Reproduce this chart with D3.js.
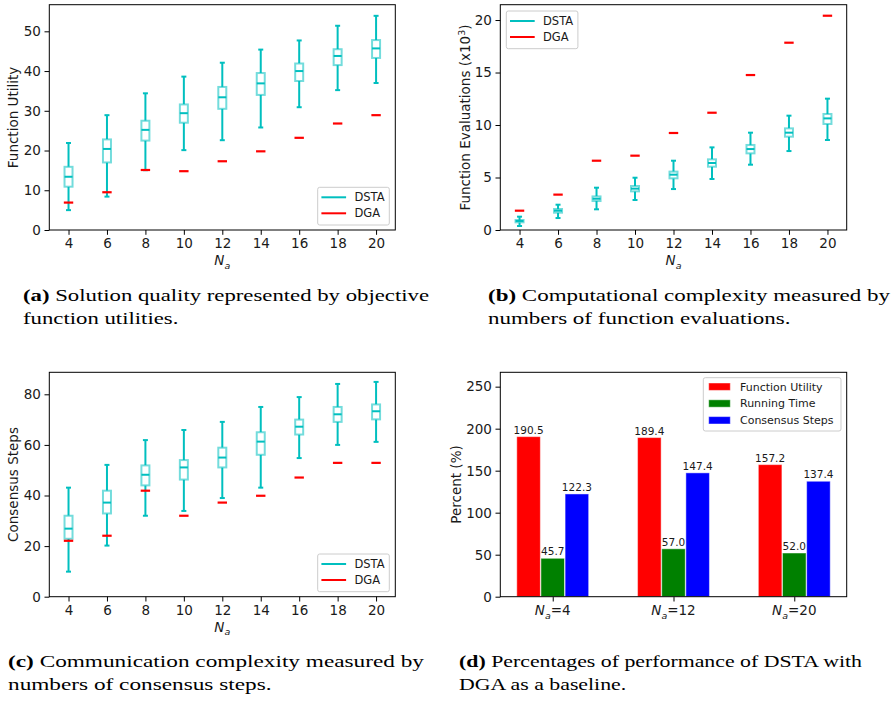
<!DOCTYPE html>
<html>
<head>
<meta charset="utf-8">
<script src="https://d3js.org/d3.v7.min.js"></script>
<style>
  body { margin: 0; background: #fff; }
  svg text { font-family: "DejaVu Sans", sans-serif; fill: #1a1a1a; }
  svg .cap { font-family: "Liberation Serif", serif; fill: #000; }
</style>
</head>
<body>
<svg id="fig" width="894" height="701"></svg>
<script>
const agents = [4, 6, 8, 10, 12, 14, 16, 18, 20];

// (a) function utility
const utilLow  = [5.0, 8.4, 15.05, 20.1, 22.6, 25.8, 30.9, 35.2, 37.0];
const utilQ1   = [10.9, 17.0, 22.5, 27.0, 30.5, 34.0, 37.5, 41.5, 43.3];
const utilMed  = [13.4, 20.4, 25.2, 29.4, 33.4, 36.9, 40.0, 43.8, 45.7];
const utilQ3   = [15.9, 22.8, 27.5, 31.6, 36.0, 39.5, 41.9, 45.5, 47.8];
const utilHigh = [21.9, 28.9, 34.4, 38.6, 42.1, 45.4, 47.7, 51.4, 53.9];
const utilDga  = [6.9, 9.5, 15.1, 14.8, 17.3, 19.8, 23.2, 26.8, 28.9];

// (b) function evaluations (x10^3)
const evalLow  = [0.38, 1.14, 1.97, 2.86, 3.9, 4.86, 6.22, 7.52, 8.57];
const evalQ1   = [0.73, 1.65, 2.76, 3.68, 4.92, 6.03, 7.3, 8.89, 10.1];
const evalMed  = [0.86, 1.84, 2.98, 3.94, 5.27, 6.38, 7.71, 9.27, 10.63];
const evalQ3   = [0.95, 2.0, 3.2, 4.19, 5.56, 6.73, 8.1, 9.68, 11.05];
const evalHigh = [1.27, 2.41, 4.03, 4.98, 6.6, 7.87, 9.27, 10.89, 12.51];
const evalDga  = [1.84, 3.37, 6.6, 7.08, 9.24, 11.17, 14.76, 17.84, 20.41];

// (c) consensus steps
const stepLow  = [9.9, 20.2, 32.0, 33.9, 39.0, 43.1, 54.8, 60.0, 61.2];
const stepQ1   = [22.9, 32.9, 44.0, 46.3, 51.1, 56.1, 64.1, 69.1, 70.1];
const stepMed  = [26.9, 37.2, 48.2, 51.1, 55.0, 61.3, 67.2, 72.1, 73.3];
const stepQ3   = [32.0, 41.9, 51.9, 54.0, 58.9, 65.0, 70.0, 75.0, 76.0];
const stepHigh = [43.1, 52.1, 61.9, 65.9, 69.1, 75.0, 78.9, 84.1, 84.9];
const stepDga  = [22.1, 24.1, 41.9, 32.0, 37.2, 39.9, 47.1, 52.9, 52.9];

// (d) percentages vs DGA
const groups = ["4", "12", "20"];
const metricNames = ["Function Utility", "Running Time", "Consensus Steps"];
const metricColors = ["#ff0000", "#008000", "#0000ff"];
const pctUtility = [190.5, 189.4, 157.2];
const pctRunTime = [45.7, 57.0, 52.0];
const pctSteps   = [122.3, 147.4, 137.4];

const xTicks = [4, 6, 8, 10, 12, 14, 16, 18, 20];
const utilTicks = [0, 10, 20, 30, 40, 50];
const evalTicks = [0, 5, 10, 15, 20];
const stepTicks = [0, 20, 40, 60, 80];
const pctTicks = [0, 50, 100, 150, 200, 250];

const cyan = "#00bfbf";
const fs = "13.5px";
const svg = d3.select("#fig");

function frameAxes(box, x, y, yTicks) {
    const g = svg.append("g");
    g.append("g")
        .attr("transform", "translate(0," + box.bottom + ")")
        .call(d3.axisBottom(x).tickValues(box.xTicks).tickSize(4.8).tickPadding(3.6).tickFormat(box.xFormat || d3.format("d")))
        .call(a => a.select(".domain").remove());
    g.append("g")
        .attr("transform", "translate(" + box.left + ",0)")
        .call(d3.axisLeft(y).tickValues(yTicks).tickSize(4.8).tickPadding(3.6).tickFormat(d3.format("d")))
        .call(a => a.select(".domain").remove());
    g.selectAll(".tick line").attr("stroke", "#000").attr("stroke-width", 1);
    g.selectAll(".tick text").attr("fill", "#1a1a1a")
        .style("font-family", "DejaVu Sans").style("font-size", fs);
    return g;
}

function drawFrame(box) {
    svg.append("rect")
        .attr("x", box.left).attr("y", box.top)
        .attr("width", box.right - box.left).attr("height", box.bottom - box.top)
        .attr("fill", "none").attr("stroke", "#000").attr("stroke-width", 1);
}

function naLabel(sel, extra) {
    sel.append("tspan").style("font-style", "italic").text("N");
    sel.append("tspan").style("font-style", "italic").style("font-size", "9.5px")
        .attr("dy", 3.5).text("a");
    if (extra) sel.append("tspan").attr("dy", -3.5).text(extra);
}

function yLabel(x, cy, text) {
    return svg.append("text")
        .attr("transform", "translate(" + x + "," + cy + ") rotate(-90)")
        .attr("text-anchor", "middle").attr("dy", "0.35em")
        .style("font-size", fs)
        .text(text);
}

function boxLegend(lx, ly) {
    const lg = svg.append("g").attr("transform", "translate(" + lx + "," + ly + ")");
    lg.append("rect").attr("width", 71.6).attr("height", 37.7).attr("rx", 2)
        .attr("fill", "#fff").attr("fill-opacity", 0.8).attr("stroke", "#cccccc");
    [["DSTA", cyan], ["DGA", "#ff0000"]].forEach((d, i) => {
        const yy = 10 + i * 16;
        lg.append("line").attr("x1", 3.7).attr("x2", 28.4).attr("y1", yy).attr("y2", yy)
            .attr("stroke", d[1]).attr("stroke-width", 2);
        lg.append("text").attr("x", 36.7).attr("y", yy).attr("dy", "0.35em")
            .style("font-size", "11.5px").text(d[0]);
    });
}

function boxPanel(box, ymax, yTicks, low, q1, med, q3, high, dga, legendPos) {
    const x = d3.scaleLinear().domain([3, 21]).range([box.left, box.right]);
    const y = d3.scaleLinear().domain([0, ymax]).range([box.bottom, box.top]);
    box.xTicks = xTicks;
    frameAxes(box, x, y, yTicks);

    const g = svg.append("g");
    agents.forEach((n, i) => {
        const cx = x(n);
        g.append("line").attr("x1", cx).attr("x2", cx).attr("y1", y(q3[i])).attr("y2", y(high[i]))
            .attr("stroke", cyan).attr("stroke-width", 2);
        g.append("line").attr("x1", cx).attr("x2", cx).attr("y1", y(q1[i])).attr("y2", y(low[i]))
            .attr("stroke", cyan).attr("stroke-width", 2);
        [low[i], high[i]].forEach(v => {
            g.append("line").attr("x1", cx - 2.5).attr("x2", cx + 2.5).attr("y1", y(v)).attr("y2", y(v))
                .attr("stroke", cyan).attr("stroke-width", 2);
        });
        g.append("rect").attr("x", cx - 4).attr("width", 8)
            .attr("y", y(q3[i])).attr("height", y(q1[i]) - y(q3[i]))
            .attr("fill", "#fff").attr("stroke", cyan).attr("stroke-opacity", 0.55).attr("stroke-width", 2);
        g.append("line").attr("x1", cx - 4).attr("x2", cx + 4).attr("y1", y(med[i])).attr("y2", y(med[i]))
            .attr("stroke", cyan).attr("stroke-width", 2);
        g.append("line").attr("x1", cx - 4.7).attr("x2", cx + 4.7).attr("y1", y(dga[i])).attr("y2", y(dga[i]))
            .attr("stroke", "#ff0000").attr("stroke-width", 2.2);
    });
    drawFrame(box);

    const xl = svg.append("text").attr("x", (box.left + box.right) / 2).attr("y", box.bottom + 35)
        .attr("text-anchor", "middle").style("font-size", fs);
    naLabel(xl);

    if (legendPos === "lr") boxLegend(box.right - 6 - 71.6, box.bottom - 5 - 37.7);
    else boxLegend(box.left + 6, box.top + 6.3);
}

// panel (a)
const boxA = { left: 49.3, right: 395.3, top: 4.7, bottom: 230 };
boxPanel(boxA, 56.7, utilTicks, utilLow, utilQ1, utilMed, utilQ3, utilHigh, utilDga, "lr");
yLabel(13.5, 117.5, "Function Utility");

// panel (b)
const boxB = { left: 500.3, right: 846.7, top: 4.7, bottom: 230 };
boxPanel(boxB, 21.46, evalTicks, evalLow, evalQ1, evalMed, evalQ3, evalHigh, evalDga, "ul");
const ylb = yLabel(465, 117.5, "Function Evaluations (x10");
ylb.append("tspan").attr("dy", -5).style("font-size", "9.5px").text("3");
ylb.append("tspan").attr("dy", 5).text(")");

// panel (c)
const boxC = { left: 49.3, right: 395.3, top: 372.3, bottom: 596.7 };
boxPanel(boxC, 88.7, stepTicks, stepLow, stepQ1, stepMed, stepQ3, stepHigh, stepDga, "lr");
yLabel(13.5, 484.5, "Consensus Steps");

// panel (d)
const boxD = { left: 500.3, right: 846.7, top: 372.3, bottom: 596.7 };
{
    const x = d3.scaleLinear().domain([-0.434, 2.434]).range([boxD.left, boxD.right]);
    const y = d3.scaleLinear().domain([0, 267.1]).range([boxD.bottom, boxD.top]);
    boxD.xTicks = [0, 1, 2];
    boxD.xFormat = () => "";
    frameAxes(boxD, x, y, pctTicks);

    const series = [pctUtility, pctRunTime, pctSteps];
    const barW = 0.195;
    series.forEach((vals, s) => {
        const gs = svg.append("g");
        vals.forEach((v, i) => {
            const xc = i + (s - 1) * 0.2;
            gs.append("rect")
                .attr("x", x(xc - barW / 2)).attr("width", x(barW) - x(0))
                .attr("y", y(v)).attr("height", y(0) - y(v))
                .attr("fill", metricColors[s])
                .attr("stroke", "#fff").attr("stroke-opacity", 0.45).attr("stroke-width", 1);
            gs.append("text").attr("x", x(xc)).attr("y", y(v) - 3)
                .attr("text-anchor", "middle").style("font-size", "10.5px")
                .text(v.toFixed(1));
        });
    });
    drawFrame(boxD);

    groups.forEach((grp, i) => {
        const t = svg.append("text").attr("x", x(i)).attr("y", boxD.bottom + 18.5)
            .attr("text-anchor", "middle").style("font-size", fs);
        naLabel(t, "=" + grp);
    });

    yLabel(456.7, 484.5, "Percent (%)");

    const lg = svg.append("g").attr("transform", "translate(703.3,377.7)");
    lg.append("rect").attr("width", 137.7).attr("height", 53.3).attr("rx", 2)
        .attr("fill", "#fff").attr("fill-opacity", 0.8).attr("stroke", "#cccccc");
    metricNames.forEach((name, i) => {
        const yy = 9 + i * 16.8;
        lg.append("rect").attr("x", 5.4).attr("y", yy - 3.7).attr("width", 21.6).attr("height", 7.4)
            .attr("fill", metricColors[i]).attr("stroke", "#fff").attr("stroke-opacity", 0.45);
        lg.append("text").attr("x", 36.7).attr("y", yy).attr("dy", "0.35em")
            .style("font-size", "11px").text(name);
    });
}

// captions
const captions = [
    { x: 23, y: 301, tag: "(a)", l1: "Solution quality represented by objective", l2: "function utilities.", w: 406 },
    { x: 488, y: 301, tag: "(b)", l1: "Computational complexity measured by", l2: "numbers of function evaluations.", w: 402 },
    { x: 8, y: 667, tag: "(c)", l1: "Communication complexity measured by", l2: "numbers of consensus steps.", w: 416 },
    { x: 459, y: 667, tag: "(d)", l1: "Percentages of performance of DSTA with", l2: "DGA as a baseline.", w: 403 }
];
captions.forEach(c => {
    const t1 = svg.append("text").attr("class", "cap").attr("x", c.x).attr("y", c.y)
        .style("font-size", "16.5px");
    t1.append("tspan").style("font-weight", "bold").text(c.tag);
    t1.append("tspan").text(" " + c.l1);
    const t2 = svg.append("text").attr("class", "cap").attr("x", c.x).attr("y", c.y + 22.5)
        .style("font-size", "16.5px").text(c.l2);
    // stretch to the wider look of the original serif face
    const k = c.w / t1.node().getComputedTextLength();
    t1.attr("textLength", c.w).attr("lengthAdjust", "spacingAndGlyphs");
    t2.attr("textLength", t2.node().getComputedTextLength() * k).attr("lengthAdjust", "spacingAndGlyphs");
});
</script>
</body>
</html>
